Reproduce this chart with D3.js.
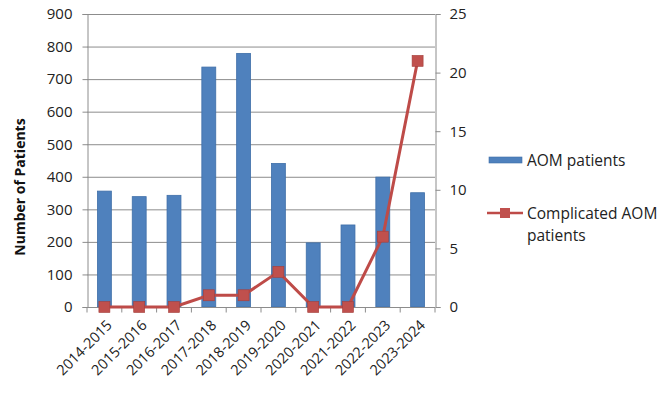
<!DOCTYPE html>
<html><head><meta charset="utf-8">
<script src="https://cdn.jsdelivr.net/npm/d3@7"></script>
<style>body{margin:0;background:#fff}svg text{font-family:"Open Sans",sans-serif}</style>
</head><body>
<svg id="c" width="670" height="395"></svg>
<script>
const categories=["2014-2015","2015-2016","2016-2017","2017-2018","2018-2019","2019-2020","2020-2021","2021-2022","2022-2023","2023-2024"];
const aomPatients=[356,339,343,737,779,441,197,252,399,351];
const complicatedAom=[0,0,0,1,1,3,0,0,6,21];
const leftTicks=[0,100,200,300,400,500,600,700,800,900];
const rightTicks=[0,5,10,15,20,25];

const svg=d3.select("#c");
const L=87,R=435,T=14,B=307;
const x=d3.scaleBand().domain(categories).range([L,R]).paddingInner(0.6).paddingOuter(0.3);
const xb=d3.scaleBand().domain(categories).range([L,R]);
const yL=d3.scaleLinear().domain([0,900]).range([B,T]);
const yR=d3.scaleLinear().domain([0,25]).range([B,T]);

// gridlines
svg.append("g").selectAll("line").data(leftTicks.slice(1)).join("line")
 .attr("x1",L).attr("x2",R).attr("y1",d=>yL(d)+0.5).attr("y2",d=>yL(d)+0.5)
 .attr("stroke","#8c8c8c").attr("stroke-width",1);

// left axis
const gl=svg.append("g").attr("transform",`translate(${L+0.5},0)`)
 .call(d3.axisLeft(yL).tickValues(leftTicks).tickSize(5).tickPadding(10));
gl.select(".domain").attr("stroke","#8c8c8c");
gl.selectAll(".tick line").attr("stroke","#8c8c8c");
gl.selectAll("text").attr("fill","#222").style("font-size","15px");

// right axis
const gr=svg.append("g").attr("transform",`translate(${R+0.5},0)`)
 .call(d3.axisRight(yR).tickValues(rightTicks).tickSize(5).tickPadding(9));
gr.select(".domain").attr("stroke","#8c8c8c");
gr.selectAll(".tick line").attr("stroke","#8c8c8c");
gr.selectAll("text").attr("fill","#222").style("font-size","15px");

// bars
svg.append("g").selectAll("rect").data(aomPatients).join("rect")
 .attr("x",(d,i)=>x(categories[i])).attr("width",x.bandwidth())
 .attr("y",d=>yL(d)).attr("height",d=>B-yL(d))
 .attr("fill","#4f81bd").attr("stroke","#3f6fa8").attr("stroke-width",0.8);

// x axis
const gx=svg.append("g").attr("transform",`translate(0,${B+0.5})`);
gx.append("line").attr("x1",L).attr("x2",R).attr("stroke","#8c8c8c");
gx.selectAll("line.t").data(d3.range(categories.length+1)).join("line").attr("class","t")
 .attr("x1",i=>L+i*xb.bandwidth()).attr("x2",i=>L+i*xb.bandwidth()).attr("y1",0).attr("y2",5)
 .attr("stroke","#8c8c8c");
gx.selectAll("text").data(categories).join("text")
 .attr("transform",d=>`translate(${xb(d)+xb.bandwidth()/2+5},15) rotate(-45)`)
 .attr("text-anchor","end").attr("dy","0.35em")
 .attr("fill","#222").style("font-size","14.5px").text(d=>d);

// line
const lineGen=d3.line().x((d,i)=>xb(categories[i])+xb.bandwidth()/2).y(d=>yR(d));
svg.append("path").datum(complicatedAom).attr("d",lineGen)
 .attr("fill","none").attr("stroke","#be4b48").attr("stroke-width",3);
svg.append("g").selectAll("rect").data(complicatedAom).join("rect")
 .attr("x",(d,i)=>xb(categories[i])+xb.bandwidth()/2-5.5).attr("y",d=>yR(d)-5.5)
 .attr("width",11).attr("height",11).attr("fill","#c0504d").attr("stroke","#a33e3b").attr("stroke-width",0.6);

// y title
svg.append("text").attr("transform","translate(25,187) rotate(-90)")
 .attr("text-anchor","middle").style("font-size","14px").style("font-weight","bold")
 .attr("fill","#111").text("Number of Patients");

// legend
const lg=svg.append("g");
lg.append("rect").attr("x",489).attr("y",157).attr("width",33).attr("height",6)
 .attr("fill","#4f81bd").attr("stroke","#3f6fa8").attr("stroke-width",0.6);
lg.append("text").attr("x",527).attr("y",166).style("font-size","15.5px").attr("fill","#222").text("AOM patients");
lg.append("line").attr("x1",487).attr("x2",523).attr("y1",213).attr("y2",213).attr("stroke","#be4b48").attr("stroke-width",2.5);
lg.append("rect").attr("x",500).attr("y",208).attr("width",10).attr("height",10).attr("fill","#c0504d");
lg.append("text").attr("x",527).attr("y",219).style("font-size","15.5px").attr("fill","#222").text("Complicated AOM");
lg.append("text").attr("x",527).attr("y",241).style("font-size","15.5px").attr("fill","#222").text("patients");
</script>
</body></html>
